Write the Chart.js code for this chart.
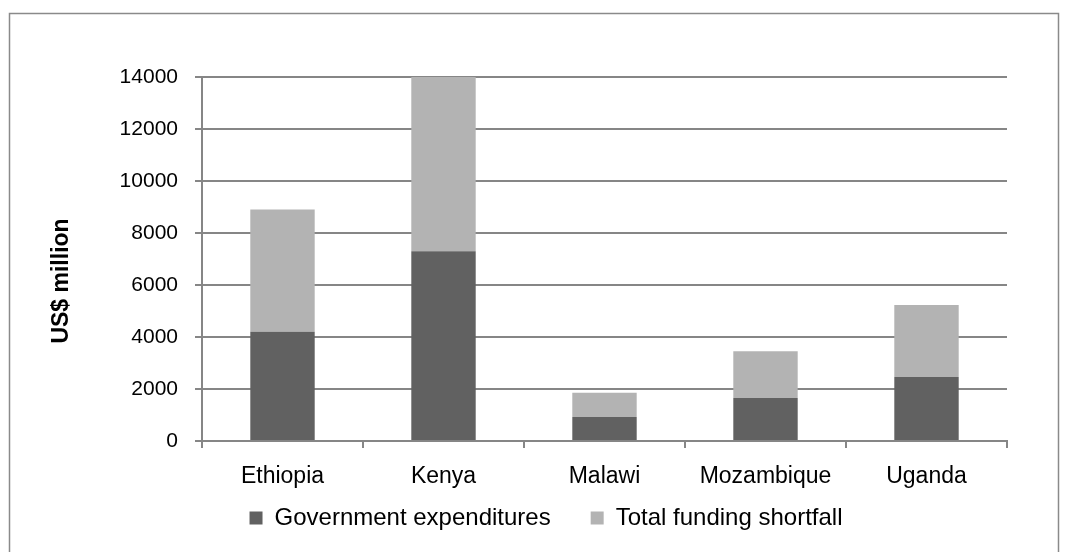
<!DOCTYPE html>
<html>
<head>
<meta charset="utf-8">
<script src="https://cdn.jsdelivr.net/npm/chart.js@4/dist/chart.umd.min.js"></script>
<style>
  html, body { margin: 0; padding: 0; background: #fff; }
  canvas { display: block; }
</style>
</head>
<body>
<canvas id="c" width="1069" height="552"></canvas>
<script>
const categories = ['Ethiopia', 'Kenya', 'Malawi', 'Mozambique', 'Uganda'];
const govExpenditures = [4200, 7300, 920, 1650, 2460];
const fundingShortfall = [4700, 6700, 940, 1800, 2770];
const yTicks = [0, 2000, 4000, 6000, 8000, 10000, 12000, 14000];
const seriesNames = ['Government expenditures', 'Total funding shortfall'];
const yTitle = 'US$ million';

const FONT = '"Liberation Sans", Arial, sans-serif';
const GRID = '#868686';

const framePlugin = {
  id: 'frame',
  afterLayout(chart) {
    // let the x-axis labels extend below the compact axis box without clipping
    const xs = chart.scales.x;
    xs.bottom = chart.height;
  },
  beforeDraw(chart) {
    const ctx = chart.ctx;
    ctx.save();
    ctx.fillStyle = '#fff';
    ctx.fillRect(0, 0, chart.width, chart.height);
    ctx.strokeStyle = '#8a8a8a';
    ctx.lineWidth = 1.5;
    ctx.strokeRect(9.5, 13.5, 1049, 560);
    ctx.restore();
  },
  afterDraw(chart) {
    const ctx = chart.ctx;
    ctx.save();
    ctx.translate(62, 281);
    ctx.rotate(-Math.PI / 2);
    ctx.font = 'bold 23px ' + FONT;
    ctx.fillStyle = '#000';
    ctx.textAlign = 'center';
    ctx.textBaseline = 'middle';
    ctx.fillText(yTitle, 0, 0);
    ctx.restore();
  }
};

new Chart(document.getElementById('c'), {
  type: 'bar',
  data: {
    labels: categories,
    datasets: [
      { label: seriesNames[0], data: govExpenditures, backgroundColor: '#616161', borderWidth: 0 },
      { label: seriesNames[1], data: fundingShortfall, backgroundColor: '#b3b3b3', borderWidth: 0 }
    ]
  },
  options: {
    responsive: false,
    animation: false,
    devicePixelRatio: 1,
    datasets: { bar: { categoryPercentage: 1.0, barPercentage: 0.4 } },
    layout: { padding: { left: 85, right: 62, top: 77, bottom: 12 } },
    plugins: {
      tooltip: { enabled: false },
      legend: {
        position: 'bottom',
        labels: {
          boxWidth: 13, boxHeight: 13, padding: 40,
          color: '#000', font: { family: FONT, size: 24 }
        }
      }
    },
    scales: {
      x: {
        stacked: true,
        afterFit(scale) { scale.height = 25; },
        grid: { offset: true, drawOnChartArea: false, color: GRID, lineWidth: 2, tickLength: 7 },
        border: { color: GRID, width: 2 },
        ticks: { color: '#000', font: { family: FONT, size: 23 }, padding: 15 }
      },
      y: {
        stacked: true,
        min: 0, max: 14000,
        afterBuildTicks(scale) { scale.ticks = yTicks.map(v => ({ value: v })); },
        afterFit(scale) { scale.width = 117; },
        grid: { color: GRID, lineWidth: 2, tickLength: 7 },
        border: { color: GRID, width: 2 },
        ticks: { color: '#000', font: { family: FONT, size: 21 }, padding: 17, callback: v => String(v) }
      }
    }
  },
  plugins: [framePlugin]
});
</script>
</body>
</html>
